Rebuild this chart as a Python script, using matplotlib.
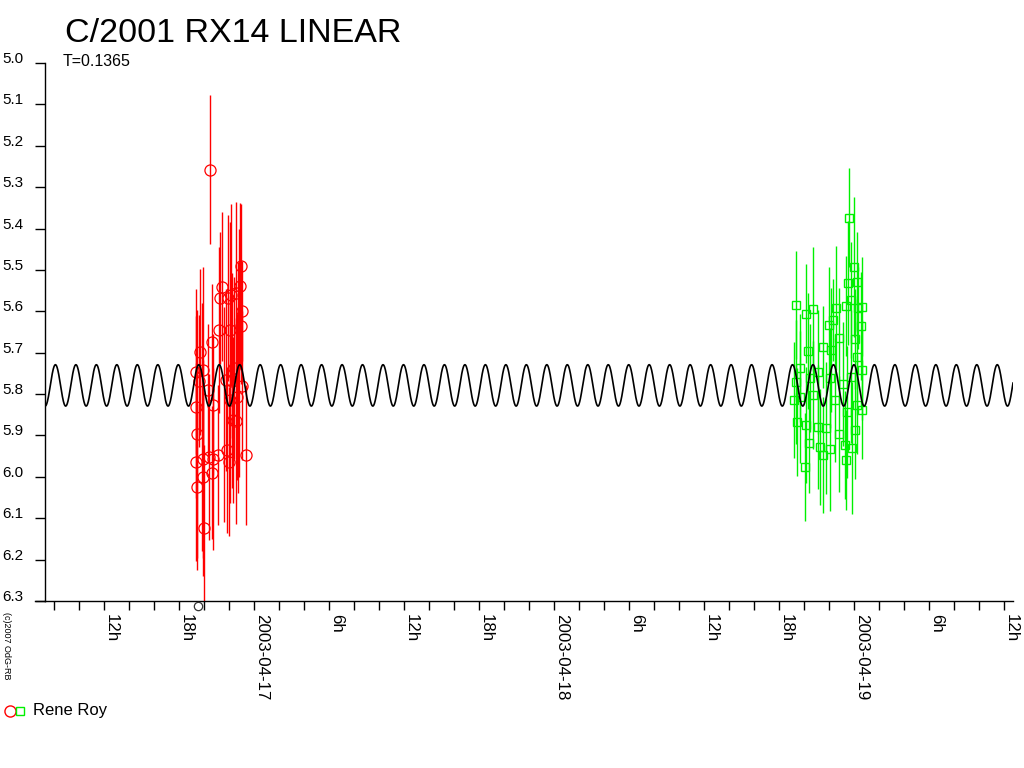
import numpy as np
import matplotlib
matplotlib.use("Agg")
import matplotlib.pyplot as plt
from matplotlib.lines import Line2D

plt.rcParams['font.family'] = ['Liberation Sans', 'DejaVu Sans']

# ---- data (hours from 2003-04-17 00:00 UT, magnitude, error) ----
red_hours = [-3.52, -1.04, -1.12, -1.44, -1.84, -2.56, -2.72, -2.08, -0.96, -1.04,
             -2.80, -3.36, -1.92, -4.32, -4.08, -4.64, -4.40, -3.68, -2.24, -1.76,
             -1.60, -1.36, -0.96, -4.64, -3.28, -1.92, -1.68, -4.56, -1.44, -4.64,
             -4.08, -3.60, -3.28, -2.88, -2.16, -2.00, -0.64, -3.36, -4.56, -4.08,
             -4.00, -1.20, -1.30, -2.40, -4.20]
red_mag = [5.258, 5.490, 5.539, 5.556, 5.560, 5.541, 5.568, 5.568, 5.599, 5.635,
           5.645, 5.674, 5.645, 5.698, 5.742, 5.746, 5.768, 5.790, 5.766, 5.768,
           5.737, 5.807, 5.780, 5.831, 5.826, 5.814, 5.862, 5.896, 5.865, 5.964,
           5.957, 5.952, 5.957, 5.947, 5.935, 5.964, 5.947, 5.990, 6.024, 6.000,
           6.123, 5.700, 5.760, 5.850, 5.880]
red_err = [0.18, 0.15, 0.20, 0.22, 0.22, 0.18, 0.16, 0.20, 0.12, 0.14,
           0.20, 0.14, 0.26, 0.20, 0.25, 0.20, 0.16, 0.16, 0.22, 0.26,
           0.22, 0.20, 0.18, 0.22, 0.17, 0.25, 0.20, 0.30, 0.25, 0.24,
           0.24, 0.20, 0.22, 0.17, 0.20, 0.18, 0.17, 0.16, 0.20, 0.24,
           0.20, 0.30, 0.28, 0.26, 0.30]

faint_hours = [-4.48]
faint_mag = [6.312]

green_hours = [47.60, 47.52, 48.00, 48.24, 47.36, 47.76, 48.32, 48.64, 43.36, 44.72,
               44.16, 46.00, 46.32, 46.56, 46.80, 45.52, 46.16, 44.32, 48.08, 48.56,
               48.24, 43.36, 44.48, 46.08, 47.12, 47.76, 48.64, 43.20, 43.68, 44.72,
               46.48, 47.44, 48.24, 48.64, 43.44, 44.16, 45.12, 45.76, 46.80, 48.08,
               44.40, 45.28, 46.08, 47.28, 47.84, 44.08, 47.36, 45.52, 45.12, 43.68]
green_mag = [5.374, 5.531, 5.493, 5.529, 5.587, 5.572, 5.592, 5.589, 5.585, 5.594,
             5.606, 5.633, 5.621, 5.592, 5.664, 5.686, 5.693, 5.696, 5.667, 5.635,
             5.710, 5.771, 5.761, 5.761, 5.775, 5.758, 5.742, 5.814, 5.807, 5.802,
             5.814, 5.843, 5.826, 5.838, 5.867, 5.874, 5.879, 5.882, 5.896, 5.886,
             5.918, 5.928, 5.932, 5.923, 5.930, 5.976, 5.959, 5.947, 5.746, 5.737]
green_err = [0.12, 0.15, 0.17, 0.12, 0.12, 0.14, 0.10, 0.12, 0.13, 0.15,
             0.12, 0.14, 0.10, 0.15, 0.12, 0.10, 0.15, 0.14, 0.12, 0.13,
             0.14, 0.15, 0.13, 0.12, 0.15, 0.16, 0.12, 0.14, 0.16, 0.13,
             0.15, 0.16, 0.12, 0.12, 0.13, 0.14, 0.15, 0.16, 0.14, 0.12,
             0.12, 0.14, 0.15, 0.13, 0.16, 0.13, 0.12, 0.14, 0.15, 0.13]

# model light curve parameters
period_days = 0.1365
model_mean = 5.779
model_amp = 0.050
model_epoch_h = -4.42

x_labels = {-12: "12h", -6: "18h", 0: "2003-04-17", 6: "6h", 12: "12h", 18: "18h",
            24: "2003-04-18", 30: "6h", 36: "12h", 42: "18h", 48: "2003-04-19",
            54: "6h", 60: "12h"}
y_ticks = [5.0, 5.1, 5.2, 5.3, 5.4, 5.5, 5.6, 5.7, 5.8, 5.9, 6.0, 6.1, 6.2, 6.3]

RED = '#ff0000'
GREEN = '#00f000'

# ---- figure ----
W, H = 1024, 768
PX = 0.72  # points per pixel at dpi 100
fig = plt.figure(figsize=(W / 100, H / 100), dpi=100)
fig.patch.set_facecolor('white')
L, R, B, T = 45, 1013, 601, 63
ax = fig.add_axes([L / W, 1 - B / H, (R - L) / W, (B - T) / H])

xmin = (L - 254) / 12.5
xmax = (R - 254) / 12.5
ax.set_xlim(xmin, xmax)
ax.set_ylim(6.3, 5.0)

for s in ['top', 'right']:
    ax.spines[s].set_visible(False)
for s in ['left', 'bottom']:
    ax.spines[s].set_linewidth(1.0)
    ax.spines[s].set_color('black')

# model curve (period of the double wave = T/2)
hh = np.linspace(xmin, xmax, 4000)
p_h = period_days * 24 / 2
model = model_mean - model_amp * np.cos(2 * np.pi * (hh - model_epoch_h) / p_h)
ax.plot(hh, model, color='black', lw=1.2, zorder=5)

# error bars + markers
ax.errorbar(red_hours, red_mag, yerr=red_err, fmt='none', ecolor=RED,
            elinewidth=1.0, capsize=0, zorder=2)
ax.plot(red_hours[:41], red_mag[:41], 'o', mfc='none', mec=RED, ms=8, mew=0.9, zorder=3)
ax.errorbar(green_hours, green_mag, yerr=green_err, fmt='none', ecolor=GREEN,
            elinewidth=1.0, capsize=0, zorder=2)
ax.plot(green_hours, green_mag, 's', mfc='none', mec=GREEN, ms=6, mew=1.0, zorder=3)
ax.plot(faint_hours, faint_mag, 'o', mfc='none', mec='#333333', ms=6, mew=0.9,
        clip_on=False, zorder=3)

# x ticks
major = sorted(x_labels.keys())
ax.set_xticks(major)
ax.set_xticklabels([x_labels[k] for k in major], rotation=-90, ha='left', va='top',
                   fontsize=12.2)
ax.set_xticks(np.arange(-16, 61, 2), minor=True)
ax.tick_params(axis='x', which='both', direction='out', length=9 * PX, width=1.0,
               pad=4 * PX, colors='black')

# y ticks
ax.set_yticks(y_ticks)
ax.set_yticklabels(["%.1f" % v for v in y_ticks], fontsize=11)
ax.tick_params(axis='y', which='both', direction='out', length=10 * PX, width=1.0,
               pad=12 * PX, colors='black')
for lab in ax.get_yticklabels():
    lab.set_va('baseline')

# extend bottom axis line to the left like the original
fig.add_artist(Line2D([35 / W, L / W], [1 - B / H, 1 - B / H], color='black', lw=1.0))

# texts
fig.text(65 / W, 1 - 34 / H, "C/2001 RX14 LINEAR", fontsize=24.5, va='center', ha='left')
fig.text(63 / W, 1 - 61 / H, "T=0.1365", fontsize=11.5, va='center', ha='left')
fig.text(2 / W, 1 - 612 / H, "(c)2007 OdG-RB", fontsize=6.5, rotation=-90,
         va='top', ha='left')

# legend
fig.add_artist(Line2D([10 / W], [1 - 711 / H], marker='o', mfc='none', mec=RED,
                      ms=8, mew=1.0, ls='none'))
fig.add_artist(Line2D([20 / W], [1 - 711 / H], marker='s', mfc='none', mec=GREEN,
                      ms=6, mew=1.0, ls='none'))
fig.text(33 / W, 1 - 710 / H, "Rene Roy", fontsize=12, va='center', ha='left')

fig.savefig("out.png", dpi=100, facecolor='white')
